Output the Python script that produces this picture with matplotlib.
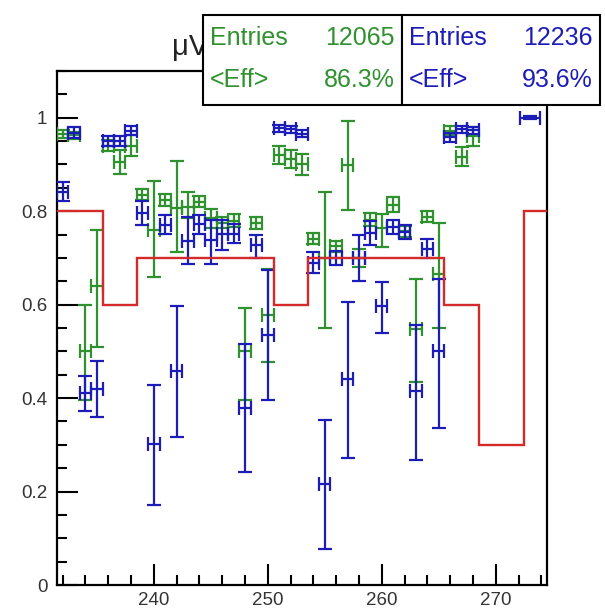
import matplotlib
matplotlib.use("Agg")
import matplotlib.pyplot as plt
from matplotlib.patches import Rectangle
from matplotlib.ticker import MultipleLocator
import numpy as np

plt.rcParams['font.family'] = ['Liberation Sans', 'DejaVu Sans']

# ---- data ----
green_ch = [232, 233, 234, 235, 236, 237, 238, 239, 240, 241, 242, 243, 244, 245, 246, 247, 248, 249,
            250, 251, 252, 253, 254, 255, 256, 257, 258, 259, 260, 261, 262, 263, 264, 265, 266, 267, 268]
green_val = [0.965, 0.962, 0.50, 0.64, 0.94, 0.905, 0.94, 0.835, 0.76, 0.824, 0.807, 0.81, 0.82, 0.785,
             0.775, 0.78, 0.50, 0.774, 0.578, 0.92, 0.912, 0.90, 0.741, 0.70, 0.725, 0.899, 0.70, 0.782,
             0.763, 0.813, 0.757, 0.547, 0.788, 0.665, 0.972, 0.917, 0.96]
green_lo = [0.008, 0.008, 0.105, 0.13, 0.012, 0.025, 0.022, 0.012, 0.10, 0.012, 0.095, 0.025, 0.012, 0.02,
            0.012, 0.014, 0.104, 0.013, 0.10, 0.02, 0.02, 0.022, 0.012, 0.15, 0.012, 0.096, 0.02, 0.014,
            0.039, 0.014, 0.012, 0.112, 0.012, 0.115, 0.01, 0.02, 0.02]
green_hi = [0.008, 0.008, 0.10, 0.12, 0.012, 0.025, 0.022, 0.012, 0.105, 0.012, 0.10, 0.03, 0.012, 0.02,
            0.012, 0.014, 0.092, 0.013, 0.098, 0.02, 0.02, 0.022, 0.012, 0.14, 0.012, 0.094, 0.02, 0.014,
            0.032, 0.018, 0.012, 0.108, 0.012, 0.11, 0.01, 0.02, 0.02]

blue_ch = [232, 233, 234, 235, 236, 237, 238, 239, 240, 241, 242, 243, 244, 245, 246, 247, 248, 249,
           250, 251, 252, 253, 254, 255, 256, 257, 258, 259, 260, 261, 262, 263, 264, 265, 266, 267, 268, 273]
blue_val = [0.842, 0.968, 0.41, 0.42, 0.95, 0.95, 0.972, 0.796, 0.301, 0.771, 0.458, 0.737, 0.772, 0.738,
            0.752, 0.752, 0.379, 0.728, 0.535, 0.977, 0.975, 0.966, 0.69, 0.217, 0.70, 0.441, 0.699, 0.753,
            0.598, 0.767, 0.756, 0.415, 0.72, 0.50, 0.958, 0.975, 0.973, 1.0]
blue_lo = [0.02, 0.012, 0.038, 0.06, 0.01, 0.01, 0.01, 0.025, 0.129, 0.02, 0.142, 0.049, 0.02, 0.05,
           0.035, 0.02, 0.137, 0.028, 0.14, 0.007, 0.007, 0.008, 0.022, 0.139, 0.015, 0.169, 0.048, 0.026,
           0.059, 0.015, 0.015, 0.148, 0.02, 0.164, 0.01, 0.007, 0.007, 0.003]
blue_hi = [0.02, 0.012, 0.038, 0.06, 0.01, 0.01, 0.01, 0.025, 0.128, 0.02, 0.139, 0.05, 0.02, 0.043,
           0.03, 0.02, 0.136, 0.02, 0.14, 0.007, 0.007, 0.008, 0.022, 0.136, 0.015, 0.165, 0.05, 0.026,
           0.051, 0.015, 0.015, 0.141, 0.02, 0.155, 0.01, 0.007, 0.007, 0.003]
blue_xerr = [0.5] * 37 + [0.9]

threshold_edges = [231.5, 235.5, 238.5, 250.5, 253.5, 265.5, 268.5, 272.5, 274.5]
threshold_vals = [0.8, 0.6, 0.7, 0.6, 0.7, 0.6, 0.3, 0.8]

green_stats = ["12065", "86.3%"]
blue_stats = ["12236", "93.6%"]

GREEN = '#2f922f'
BLUE = '#1c1cb8'
RED = '#d42a2a'

fig = plt.figure(figsize=(6.05, 6.13), dpi=100)
ax = fig.add_axes([57/605, 1 - 585/613, 490/605, 514/613])

ek = dict(fmt='none', capsize=5, elinewidth=1.6, capthick=1.6)
ax.errorbar(green_ch, green_val, yerr=[green_lo, green_hi], xerr=0.5, ecolor=GREEN, zorder=3, **ek)
ax.errorbar(blue_ch, blue_val, yerr=[blue_lo, blue_hi], xerr=blue_xerr, ecolor=BLUE, zorder=4, **ek)
ax.stairs(threshold_vals, threshold_edges, color=RED, lw=1.7, zorder=5, baseline=None)

ax.set_xlim(231.5, 274.5)
ax.set_ylim(0, 1.1)
ax.xaxis.set_major_locator(MultipleLocator(10))
ax.xaxis.set_minor_locator(MultipleLocator(2))
ax.yaxis.set_major_locator(MultipleLocator(0.2))
ax.yaxis.set_minor_locator(MultipleLocator(0.05))
ax.tick_params(which='both', direction='in', top=False, right=False, width=1.5,
               labelsize=13.5, labelcolor='#333333')
ax.tick_params(axis='y', which='major', pad=7)
ax.tick_params(axis='x', which='major', pad=5)
ax.tick_params(which='major', length=15)
ax.tick_params(which='minor', length=7)
ax.yaxis.set_major_formatter(plt.FuncFormatter(lambda v, p: f"{v:g}"))
for s in ax.spines.values():
    s.set_linewidth(1.6)

fig.text(172/605, 1 - 47/613, "μV", fontsize=21, ha='left', va='center', color='#222222', zorder=1)

# stats boxes
bx0, bx1, bx2 = 203/605, 402/605, 600/605
by0, by1 = 1 - 105/613, 1 - 15/613
for (x0, x1) in [(bx0, bx1), (bx1, bx2)]:
    fig.add_artist(Rectangle((x0, by0), x1 - x0, by1 - by0, transform=fig.transFigure,
                             facecolor='white', edgecolor='black', lw=1.5, zorder=10))
rows = [1 - 38/613, 1 - 80/613]
for (x0, x1), stats, col in [((bx0, bx1), green_stats, GREEN), ((bx1, bx2), blue_stats, BLUE)]:
    fig.text(x0 + 7/605, rows[0], "Entries", color=col, fontsize=18, va='center', ha='left', zorder=11)
    fig.text(x1 - 7/605, rows[0], stats[0], color=col, fontsize=18, va='center', ha='right', zorder=11)
    fig.text(x0 + 7/605, rows[1], "<Eff>", color=col, fontsize=18, va='center', ha='left', zorder=11)
    fig.text(x1 - 7/605, rows[1], stats[1], color=col, fontsize=18, va='center', ha='right', zorder=11)

fig.savefig("out.png", dpi=100)
